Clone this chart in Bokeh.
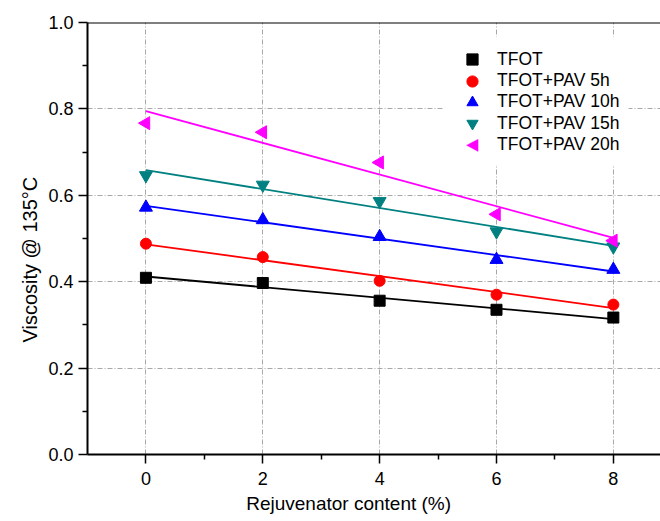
import numpy as np
from bokeh.plotting import figure
from bokeh.models import (FixedTicker, PrintfTickFormatter, Legend, LegendItem,
                          Span, BoxAnnotation, PolyAnnotation, Title)
from bokeh.embed import file_html
from bokeh.resources import INLINE

# Rejuvenator content (%) and viscosity at 135 °C for each ageing state
content = [0, 2, 4, 6, 8]
tfot = [0.409, 0.397, 0.356, 0.335, 0.317]
pav_5h = [0.488, 0.457, 0.402, 0.370, 0.347]
pav_10h = [0.572, 0.543, 0.504, 0.451, 0.428]
pav_15h = [0.646, 0.624, 0.586, 0.516, 0.481]
pav_20h = [0.767, 0.746, 0.676, 0.556, 0.495]

series_names = ["TFOT", "TFOT+PAV 5h", "TFOT+PAV 10h", "TFOT+PAV 15h", "TFOT+PAV 20h"]
x_ticks = [0, 2, 4, 6, 8]
y_ticks = [0.0, 0.2, 0.4, 0.6, 0.8, 1.0]
x_title = "Rejuvenator content (%)"
y_title = "Viscosity @ 135°C"

FONT = "Liberation Sans"

p = figure(
    width=660, height=521,
    x_range=(-1, 8.807), y_range=(0, 1),
    output_backend="svg", toolbar_location=None,
    min_border_left=87, min_border_right=0,
    min_border_top=22, min_border_bottom=67,
    outline_line_color=None,
    background_fill_color="white", border_fill_color="white",
)

# axes
p.xaxis.ticker = FixedTicker(ticks=x_ticks, minor_ticks=[1, 3, 5, 7])
p.yaxis.ticker = FixedTicker(ticks=y_ticks, minor_ticks=[0.1, 0.3, 0.5, 0.7, 0.9])
p.xaxis.formatter = PrintfTickFormatter(format="%d")
p.yaxis.formatter = PrintfTickFormatter(format="%.1f")
for ax in (p.xaxis, p.yaxis):
    ax.axis_line_width = 2
    ax.axis_line_color = "black"
    ax.major_tick_line_width = 1.5
    ax.minor_tick_line_width = 1.5
    ax.major_tick_line_color = "black"
    ax.minor_tick_line_color = "black"
    ax.major_tick_in = 0
    ax.major_tick_out = 9
    ax.minor_tick_in = 0
    ax.minor_tick_out = 5
    ax.major_label_text_font = FONT
    ax.major_label_text_font_size = "18px"
    ax.major_label_text_color = "black"
    ax.major_label_standoff = 5
p.xaxis.major_label_standoff = 8

# axis titles
p.add_layout(Title(text=x_title, align="left", offset=158.7, standoff=6,
                   vertical_align="bottom",
                   text_font=FONT, text_font_size="19px", text_font_style="normal",
                   text_color="black"), "below")
p.add_layout(Title(text=y_title, align="left", offset=112,
                   text_font=FONT, text_font_size="20px", text_font_style="normal",
                   text_color="black"), "left")

# top border line
p.add_layout(Span(location=1.0, dimension="width", line_color="black", line_width=2))

# dash-dot grid
p.xgrid.ticker = FixedTicker(ticks=x_ticks)
p.ygrid.ticker = FixedTicker(ticks=y_ticks)
for g in (p.xgrid, p.ygrid):
    g.grid_line_color = "#a8a8a8"
    g.grid_line_width = 1
    g.grid_line_dash = "5 2 1 2"

colors = ["black", "#ff0000", "#0000ff", "#008080", "#ff00ff"]
markers = ["square", "circle", "triangle", "inverted_triangle", "triangle"]
angles = [0, 0, 0, 0, np.pi / 2]
sizes = [11, 11, 13, 13, 13]
all_series = [tfot, pav_5h, pav_10h, pav_15h, pav_20h]

renderers = []
fit_x = np.array([content[0], content[-1]], dtype=float)
for ys, c, m, a, s in zip(all_series, colors, markers, angles, sizes):
    # least-squares linear fit through each series
    slope, intercept = np.polyfit(content, ys, 1)
    p.line(fit_x, slope * fit_x + intercept, line_color=c, line_width=1.8)
    renderers.append(p.scatter(content, ys, marker=m, angle=a, size=s,
                               fill_color=c, line_color=c))

# legend glyphs ignore marker angle, so the last entry gets a blank glyph
# and its left-pointing triangle is drawn as a screen-space polygon
blank = p.scatter([], [], marker="square", fill_alpha=0, line_alpha=0)
legend_renderers = renderers[:4] + [blank]

# white panel behind the legend entries
p.add_layout(BoxAnnotation(left=5.09, right=8.26, bottom=0.671, top=0.967,
                           fill_color="white", fill_alpha=1.0, line_color=None))

# one entry per legend so that rows can sit closer than the glyph box
row_pitch = 21.3
for k, (name, r) in enumerate(zip(series_names, legend_renderers)):
    p.add_layout(Legend(
        items=[LegendItem(label=name, renderers=[r])],
        location=(370, 380.7 - row_pitch * k),
        glyph_width=30, glyph_height=28, label_height=28,
        spacing=0, padding=0, margin=0, label_standoff=10,
        label_text_font=FONT, label_text_font_size="17.5px", label_text_color="black",
        border_line_color=None, background_fill_alpha=0.0,
    ))

p.add_layout(PolyAnnotation(
    xs=[379.0, 390.6, 390.6], ys=[309.2, 315.3, 303.0],
    xs_units="screen", ys_units="screen",
    fill_color=colors[4], fill_alpha=1.0, line_color=colors[4], line_width=1,
))

open("out.html", "w").write(file_html(p, INLINE))
